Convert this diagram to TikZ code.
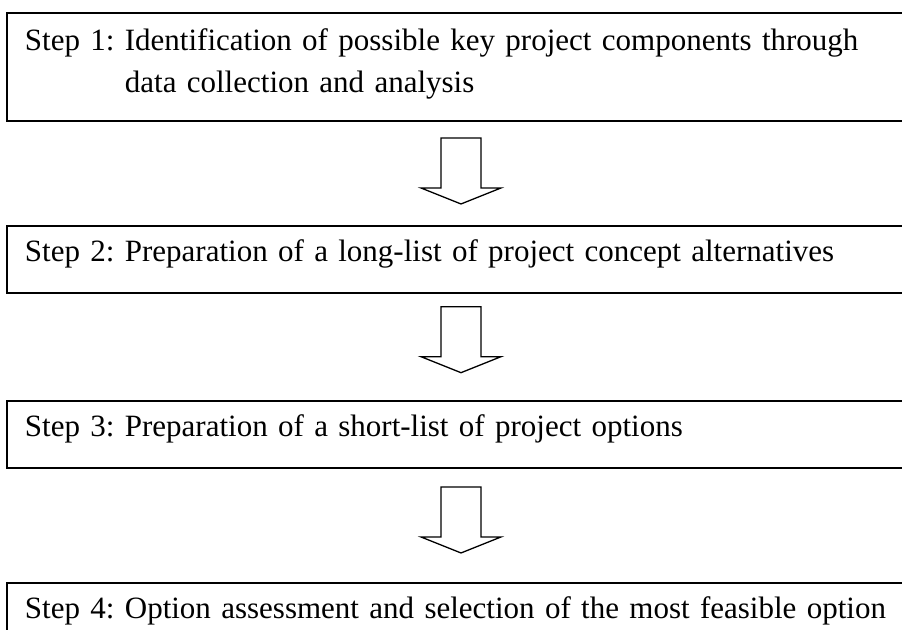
\documentclass[tikz,border=0pt]{standalone}
\usepackage{fontspec}
\setmainfont{Liberation Serif}
\usetikzlibrary{positioning, calc}

\tikzset{
  stepbox/.style={draw=black, line width=1pt, anchor=north west,
                  text width=436pt, align=left, inner xsep=9pt, inner ysep=0pt,
                  font=\fontsize{15.5}{21}\selectfont\frenchspacing,
                  text height=18pt, text depth=15.5pt},
  hollowarr/.style={draw=black, line width=0.65pt, fill=white},
}

\begin{document}
\begin{tikzpicture}
  \clip (0,0) rectangle (451pt,-315pt);

  %% Steps, top to bottom
  \node[stepbox, text height=19pt, text depth=35pt] (step1) at (3pt,-6pt)
    {Step 1: Identification of possible key project components through\\
     \phantom{Step 1: }data collection and analysis};
  \node[stepbox, below=51.5pt of step1.south west, anchor=north west] (step2)
    {Step 2: Preparation of a long-list of project concept alternatives};
  \node[stepbox, below=53pt of step2.south west, anchor=north west] (step3)
    {Step 3: Preparation of a short-list of project options};
  \node[stepbox, below=56.5pt of step3.south west, anchor=north west] (step4)
    {Step 4: Option assessment and selection of the most feasible option};

  %% Hollow down arrows between the steps
  \foreach \s/\g in {step1/8pt, step2/6.35pt, step3/9pt}{
    \draw[hollowarr] ($(\s.south)+(-10pt,-\g)$) -- ++(20pt,0) -- ++(0,-25pt)
      -- ++(10pt,0) -- ++(-20pt,-8pt) -- ++(-20pt,8pt) -- ++(10pt,0) -- cycle;
  }

\end{tikzpicture}
\end{document}
